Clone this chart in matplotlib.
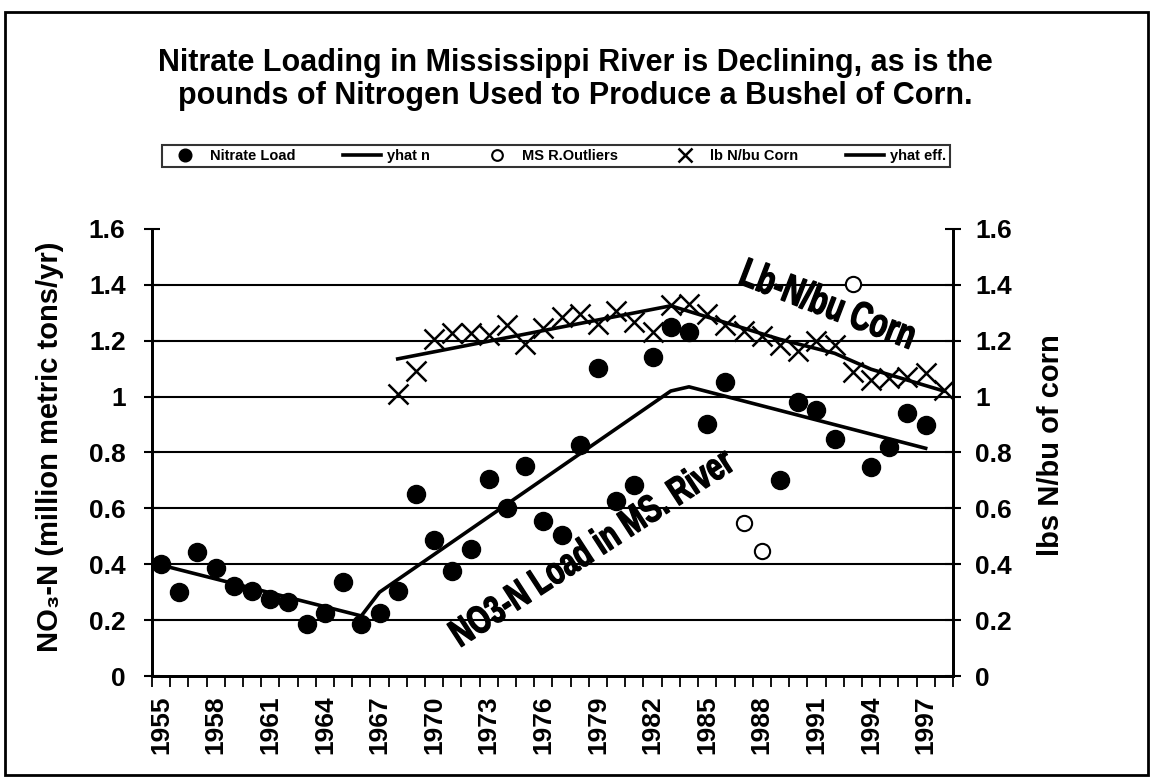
import matplotlib
matplotlib.use("Agg")
import matplotlib.pyplot as plt
import numpy as np
from matplotlib import patheffects
from matplotlib.patches import Rectangle
from matplotlib.transforms import Affine2D

plt.rcParams['font.family'] = ['Liberation Sans', 'DejaVu Sans']
plt.rcParams['font.weight'] = 'bold'


class Squeeze(patheffects.AbstractPathEffect):
    """Draw text narrower and heavier (condensed look) about its own centre."""

    def __init__(self, sx, stroke=1.0):
        super().__init__()
        self.sx = sx
        self.stroke = stroke

    def draw_path(self, renderer, gc, tpath, affine, rgbFace=None):
        ext = tpath.get_extents()
        cx = 0.5 * (ext.x0 + ext.x1)
        squeeze = Affine2D().translate(-cx, 0).scale(self.sx, 1).translate(cx, 0)
        gc0 = renderer.new_gc()
        gc0.copy_properties(gc)
        gc0.set_linewidth(self.stroke)
        gc0.set_foreground(rgbFace)
        renderer.draw_path(gc0, tpath, squeeze + affine, rgbFace)
        gc0.restore()


# data
load_years = [1955, 1956, 1957, 1958, 1959, 1960, 1961, 1962, 1963, 1964,
              1965, 1966, 1967, 1968, 1969, 1970, 1971, 1972, 1973, 1974,
              1975, 1976, 1977, 1978, 1979, 1980, 1981, 1982, 1983, 1984,
              1985, 1986, 1989, 1990, 1991, 1992, 1994, 1995, 1996, 1997]
load = [0.40, 0.30, 0.445, 0.385, 0.323, 0.305, 0.274, 0.266, 0.186, 0.226,
        0.337, 0.186, 0.225, 0.303, 0.653, 0.485, 0.375, 0.455, 0.705, 0.60,
        0.752, 0.553, 0.505, 0.825, 1.102, 0.625, 0.682, 1.14, 1.248, 1.23,
        0.902, 1.053, 0.703, 0.982, 0.952, 0.85, 0.749, 0.82, 0.943, 0.897]

outlier_years = [1987, 1988, 1993]
outliers = [0.547, 0.449, 1.404]

yhat_n_years = [1955, 1966, 1967, 1983, 1984, 1997]
yhat_n = [0.397, 0.215, 0.30, 1.02, 1.035, 0.815]

eff_years = list(range(1968, 1999))
lb_n_bu = [1.01, 1.092, 1.205, 1.227, 1.227, 1.22, 1.255, 1.19, 1.245, 1.284,
           1.296, 1.26, 1.308, 1.266, 1.23, 1.327, 1.333, 1.294, 1.255, 1.234,
           1.216, 1.183, 1.165, 1.198, 1.183, 1.088, 1.06, 1.066, 1.071, 1.085,
           1.025]

yhat_eff_years = [1968, 1983, 1989, 1992, 1994, 1998]
yhat_eff = [1.135, 1.325, 1.205, 1.155, 1.098, 1.02]

label_years = list(range(1955, 1998, 3))
y_ticks = [0, 0.2, 0.4, 0.6, 0.8, 1.0, 1.2, 1.4, 1.6]

fig = plt.figure(figsize=(11.53, 7.78), dpi=100, facecolor='white')
ax = fig.add_axes([0.1318, 0.1311, 0.6947, 0.5746])
ax2 = ax.twinx()

# horizontal gridlines (none along the top)
ax.hlines(y_ticks[1:-1], 1954.5, 1998.5, color='black', lw=1.5, zorder=1)

l_load, = ax.plot(load_years, load, 'o', color='black', ms=13, zorder=3,
                  label='Nitrate Load')
l_yn, = ax.plot(yhat_n_years, yhat_n, '-', color='black', lw=2.6, zorder=4,
                label='yhat n')
l_out, = ax.plot(outlier_years, outliers, 'o', mfc='white', mec='black',
                 mew=1.5, ms=11, zorder=3, label='MS R.Outliers')
l_x, = ax2.plot(eff_years, lb_n_bu, 'x', color='black', ms=14, mew=1.8,
                zorder=3, label='lb N/bu Corn')
l_ye, = ax2.plot(yhat_eff_years, yhat_eff, '-', color='black', lw=2.6,
                 zorder=4, label='yhat eff.')

for a in (ax, ax2):
    a.set_ylim(0, 1.6)
    a.set_xlim(1954.5, 1998.5)
    a.set_yticks(y_ticks)
    a.set_yticklabels(['%g' % v for v in y_ticks])
    a.tick_params(axis='y', direction='inout', length=12, width=1.5,
                  labelsize=19)
    a.spines['top'].set_visible(False)
    for s in ('left', 'right', 'bottom'):
        a.spines[s].set_linewidth(2)
ax.tick_params(axis='y', pad=13)
ax2.tick_params(axis='y', pad=10)

ax.set_xticks(label_years)
ax.set_xticklabels([str(y) for y in label_years], rotation=90)
ax.set_xticks(np.arange(1954.5, 1999, 1), minor=True)
ax.tick_params(axis='x', which='major', length=0, labelsize=19, pad=14)
ax.tick_params(axis='x', which='minor', direction='out', length=8, width=1.3)

ax.set_ylabel('NO\u2083-N (million metric tons/yr)', fontsize=21,
              fontweight='bold')
ax.yaxis.set_label_coords(-0.11, 0.512)
ax2.set_ylabel('lbs N/bu of corn', fontsize=21, fontweight='bold')
ax2.yaxis.set_label_coords(1.105, 0.517)

# slanted labels on the curves
ax.text(1978.7, 0.452, 'NO3-N Load in MS. River', fontsize=28,
        fontweight='bold', rotation=33, ha='center', va='center', zorder=5,
        path_effects=[Squeeze(0.72)])
ax2.text(1991.6, 1.325, 'Lb-N/bu Corn', fontsize=29, fontweight='bold',
         rotation=-21, ha='center', va='center', zorder=5,
         path_effects=[Squeeze(0.72)])

fig.text(0.499, 0.898, 'Nitrate Loading in Mississippi River is Declining, as is the\n'
         'pounds of Nitrogen Used to Produce a Bushel of Corn.',
         ha='center', va='center', fontsize=22, fontweight='bold',
         linespacing=1.15)

leg = fig.legend([l_load, l_yn, l_out, l_x, l_ye],
                 ['Nitrate Load', 'yhat n', 'MS R.Outliers', 'lb N/bu Corn',
                  'yhat eff.'],
                 loc='center', ncol=5, mode='expand',
                 bbox_to_anchor=(155 / 1153, 1 - 169 / 778, 802 / 1153, 26 / 778),
                 bbox_transform=fig.transFigure, frameon=True, fancybox=False,
                 edgecolor='black', markerscale=0.7, handlelength=2.6,
                 borderpad=0.25, handletextpad=0.4,
                 prop={'weight': 'bold', 'size': 10.5})
leg.get_frame().set_linewidth(1.5)

# outer frame around the whole figure
fig.patches.append(Rectangle((5 / 1153, 3 / 778), 1143 / 1153, 763 / 778,
                             transform=fig.transFigure, fill=False,
                             edgecolor='black', lw=2))

fig.savefig('out.png', dpi=100, facecolor='white')
